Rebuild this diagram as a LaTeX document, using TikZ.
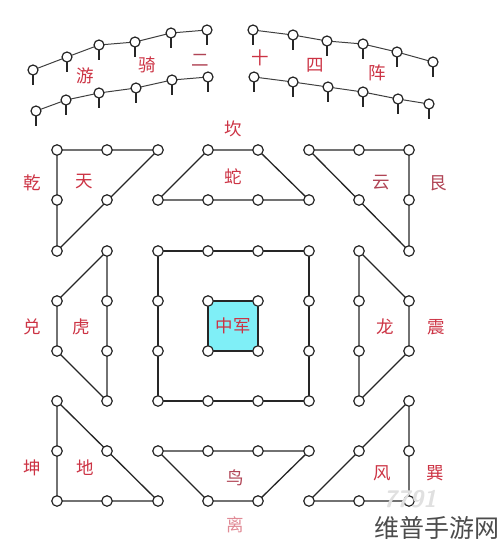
\documentclass[tikz,border=0pt]{standalone}
\usepackage{fontspec}
\usetikzlibrary{calc}
\newfontfamily\cjk{Noto Sans CJK SC}
\definecolor{lbl}{HTML}{CC3344}
\definecolor{lblsoft}{HTML}{B04455}
\definecolor{lbllight}{HTML}{E08A95}
\definecolor{core}{HTML}{7FEFF7}
\tikzset{
  link/.style={line width=1.3pt, draw=black!85},
  dot/.style={circle, draw=black!85, line width=1.2pt, fill=white, minimum size=10.5pt, inner sep=0pt},
  pin/.style={circle, draw=black!85, line width=1.2pt, fill=white, minimum size=10pt, inner sep=0pt},
  arc/.style={line width=1pt, draw=black!75},
  stem/.style={line width=1.2pt, draw=black!85},
  lab/.style={font=\cjk\fontsize{17.5}{17.5}\selectfont, text=lbl, inner sep=0pt},
}
\begin{document}
\begin{tikzpicture}[x=1pt,y=-1pt]
\useasboundingbox (0,0) rectangle (500,550);
% grid coordinates
\foreach \i/\xx in {1/57,2/107,3/158,4/208,5/258,6/309,7/359,8/409}{
  \foreach \j/\yy in {1/150,2/200,3/251,4/301,5/351,6/401,7/451,8/501}{
    \coordinate (g\i\j) at (\xx,\yy);
  }
}
% inner core fill
\fill[core] (g44) rectangle (g55);
% connectors
\draw[link] (g11) -- (g31) -- (g13) -- cycle;           % qian
\draw[link] (g41) -- (g51) -- (g62) -- (g32) -- cycle;  % kan
\draw[link] (g61) -- (g81) -- (g83) -- cycle;           % gen
\draw[link] (g23) -- (g14) -- (g15) -- (g26) -- cycle;  % dui
\draw[link] (g33) -- (g63) -- (g66) -- (g36) -- cycle;  % outer square
\draw[link] (g44) -- (g54) -- (g55) -- (g45) -- cycle;  % inner square
\draw[link] (g73) -- (g84) -- (g85) -- (g76) -- cycle;  % zhen
\draw[link] (g16) -- (g18) -- (g38) -- cycle;           % kun
\draw[link] (g37) -- (g67) -- (g58) -- (g48) -- cycle;  % li
\draw[link] (g86) -- (g88) -- (g68) -- cycle;           % xun
% dots
\foreach \p in {11,21,31,12,22,13, 41,51,32,42,52,62, 61,71,81,72,82,83,
  23,14,24,15,25,26, 33,43,53,63,34,64,35,65,36,46,56,66, 44,54,45,55,
  73,74,75,76,84,85, 16,17,18,27,28,38, 37,47,57,67,48,58, 86,87,88,77,68,78}{
  \node[dot] (d\p) at (g\p) {};
}
% top pin rows
\foreach \n/\xx/\yy in {1/33/70,2/67/57,3/99/45,4/135/42,5/171/33,6/207/30}{
  \coordinate (A\n) at (\xx,\yy);}
\foreach \n/\xx/\yy in {1/36/111,2/66/100,3/99/93,4/136/88,5/172/80,6/208/77}{
  \coordinate (B\n) at (\xx,\yy);}
\foreach \n/\xx/\yy in {1/253/30,2/293/35,3/327/41,4/363/44,5/397/52,6/433/62}{
  \coordinate (C\n) at (\xx,\yy);}
\foreach \n/\xx/\yy in {1/254/77,2/293/82,3/328/87,4/363/92,5/398/99,6/429/104}{
  \coordinate (D\n) at (\xx,\yy);}
\foreach \r in {A,B,C,D}{
  \draw[arc] (\r1) -- (\r2) -- (\r3) -- (\r4) -- (\r5) -- (\r6);
  \foreach \n in {1,...,6}{
    \coordinate (\r\n s) at ($(\r\n)+(0,15)$);
    \draw[stem] (\r\n) -- (\r\n s);
    \node[pin] (p\r\n) at (\r\n) {};
  }
}
% labels
\node[lab] (t1) at (85,76) {游};
\node[lab] (t2) at (147,65) {骑};
\node[lab, text=lblsoft] (t3) at (200,60) {二};
\node[lab] (t4) at (260,58) {十};
\node[lab] (t5) at (315,65) {四};
\node[lab] (t6) at (377,73) {阵};
\node[lab] (kan) at (233,129) {坎};
\node[lab] (she) at (233,177) {蛇};
\node[lab] (qian) at (32,183) {乾};
\node[lab] (tian) at (84,181) {天};
\node[lab, text=lblsoft] (yun) at (381,183) {云};
\node[lab, text=lblsoft] (gen) at (438,183) {艮};
\node[lab] (dui) at (32,327) {兑};
\node[lab] (hu) at (81,327) {虎};
\node[lab] (zj) at (233,326) {中军};
\node[lab] (long) at (385,327) {龙};
\node[lab] (zhen) at (436,327) {震};
\node[lab] (kun) at (32,468) {坤};
\node[lab] (di) at (85,468) {地};
\node[lab, text=lblsoft] (niao) at (235,478) {鸟};
\node[lab, text=lbllight] (li) at (235,525) {离};
\node[lab] (feng) at (382,473) {风};
\node[lab] (xun) at (435,473) {巽};
% watermark
\node[font=\sffamily\bfseries\itshape\fontsize{24}{24}\selectfont, text=black!12, inner sep=0pt] (wm1) at (410,499) {7791};
\node[font=\cjk\fontsize{25}{25}\selectfont, text=black!70, inner sep=0pt] (wm2) at (437,528) {维普手游网};
\end{tikzpicture}
\end{document}
